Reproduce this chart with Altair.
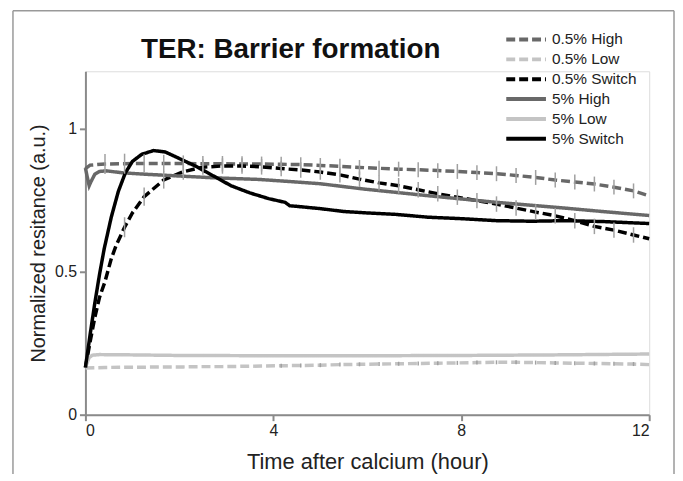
import altair as alt
import pandas as pd

SERIES = ["0.5% High", "0.5% Low", "0.5% Switch", "5% High", "5% Low", "5% Switch"]
COLORS = ["#686868", "#c4c4c4", "#000000", "#686868", "#c4c4c4", "#000000"]
DASHES = [[9, 4], [9, 4], [9, 4], [1, 0], [1, 0], [1, 0]]

# 25-minute measurement grid (minutes) used by the 0.5% series and their error bars
GRID_MIN = [0, 25, 50, 75, 100, 125, 150, 175, 200, 225, 250, 275, 300, 325, 350,
            375, 400, 425, 450, 475, 500, 525, 550, 575, 600, 625, 650, 675, 700, 720]

HIGH05 = [0.860, 0.876, 0.877, 0.878, 0.878, 0.878, 0.877, 0.877, 0.876, 0.876, 0.875, 0.874,
          0.871, 0.868, 0.864, 0.861, 0.858, 0.856, 0.853, 0.850, 0.846, 0.842, 0.836, 0.829,
          0.820, 0.813, 0.806, 0.795, 0.782, 0.765]
HIGH05_ERR = [0, 0.035, 0.035, 0.032, 0.030, 0.028, 0.027, 0.027, 0.027, 0.026, 0.026, 0.026,
              0.026, 0.026, 0.026, 0.026, 0.026, 0.026, 0.026, 0.026, 0.026, 0.026, 0.026, 0.026,
              0.026, 0.026, 0.026, 0.026, 0.026, 0]

SWITCH05 = [0.165, 0.465, 0.655, 0.762, 0.820, 0.849, 0.865, 0.869, 0.869, 0.866, 0.860, 0.855,
            0.848, 0.838, 0.823, 0.810, 0.800, 0.786, 0.772, 0.760, 0.748, 0.736, 0.722, 0.708,
            0.695, 0.678, 0.658, 0.645, 0.628, 0.615]
SWITCH05_ERR = [0, 0, 0.035, 0.032, 0.030, 0.028, 0.027, 0.027, 0.027, 0.027, 0.027, 0.027,
                0.027, 0.027, 0.027, 0.027, 0.027, 0.027, 0.027, 0.027, 0.027, 0.027, 0.027, 0.027,
                0.027, 0.027, 0.027, 0.027, 0.027, 0]

LOW05 = [0.163, 0.165, 0.166, 0.166, 0.167, 0.167, 0.168, 0.168, 0.169, 0.170, 0.171, 0.172,
         0.173, 0.175, 0.176, 0.177, 0.178, 0.179, 0.180, 0.181, 0.182, 0.183, 0.183, 0.182,
         0.181, 0.180, 0.179, 0.178, 0.177, 0.175]
LOW05_ERR = [0, 0, 0, 0, 0, 0, 0, 0, 0, 0, 0.007, 0.007, 0.007, 0.007, 0.007, 0.007, 0.007,
             0.007, 0.007, 0.007, 0.007, 0.007, 0.007, 0.007, 0.007, 0.007, 0.007, 0.007, 0.007, 0]

# extra early readings (hours)
SWITCH05_EXTRA_T = [0.05, 0.1, 0.2, 0.3, 0.55, 0.65, 1.0]
SWITCH05_EXTRA_V = [0.21, 0.255, 0.34, 0.41, 0.545, 0.59, 0.705]
HIGH05_EXTRA_T = [0.1]
HIGH05_EXTRA_V = [0.872]

HIGH5_T = [0, 0.04, 0.08, 0.12, 0.2, 0.3, 0.45, 0.8, 1.3, 2.0, 2.7, 3.7, 4.5, 5.0, 5.9, 7.3,
           8.75, 10.2, 11.0, 12.0]
HIGH5_V = [0.862, 0.83, 0.80, 0.815, 0.84, 0.85, 0.852, 0.845, 0.84, 0.834, 0.828, 0.822,
           0.813, 0.807, 0.789, 0.765, 0.742, 0.722, 0.71, 0.696]

LOW5_T = [0, 0.08, 0.15, 0.3, 1, 2, 4, 6, 8, 10, 12]
LOW5_V = [0.165, 0.2, 0.208, 0.21, 0.209, 0.207, 0.206, 0.206, 0.207, 0.209, 0.212]

SWITCH5_T = [0, 0.1, 0.2, 0.3, 0.4, 0.55, 0.7, 0.85, 1.0, 1.2, 1.45, 1.7, 2.0, 2.35, 2.75,
             3.1, 3.5, 3.9, 4.25, 4.35, 4.5, 5.0, 5.5, 6.0, 6.6, 7.3, 8.0, 8.75, 9.5, 10.2,
             11.0, 12.0]
SWITCH5_V = [0.165, 0.28, 0.39, 0.49, 0.58, 0.69, 0.78, 0.845, 0.885, 0.91, 0.923, 0.918,
             0.895, 0.868, 0.832, 0.80, 0.775, 0.755, 0.742, 0.73, 0.728, 0.72, 0.71, 0.705,
             0.70, 0.69, 0.685, 0.678, 0.676, 0.678, 0.675, 0.668]

grid_h = [m / 60 for m in GRID_MIN]

rows = []
for name, ts, vs in [
    ("0.5% High", grid_h + HIGH05_EXTRA_T, HIGH05 + HIGH05_EXTRA_V),
    ("0.5% Low", grid_h, LOW05),
    ("0.5% Switch", grid_h + SWITCH05_EXTRA_T, SWITCH05 + SWITCH05_EXTRA_V),
    ("5% High", HIGH5_T, HIGH5_V),
    ("5% Low", LOW5_T, LOW5_V),
    ("5% Switch", SWITCH5_T, SWITCH5_V),
]:
    for t, v in zip(ts, vs):
        rows.append({"series": name, "t": t, "v": v})
lines_df = pd.DataFrame(rows)

err_rows = []
for vals, errs in [(HIGH05, HIGH05_ERR), (SWITCH05, SWITCH05_ERR), (LOW05, LOW05_ERR)]:
    for t, v, e in zip(grid_h, vals, errs):
        if e > 0:
            err_rows.append({"t": t, "lo": v - e, "hi": v + e})
err_df = pd.DataFrame(err_rows)

legend_df = pd.DataFrame({"series": SERIES})

FONT = "Liberation Sans"
AX = "#8a8a8a"

color_scale = alt.Scale(domain=SERIES, range=COLORS)
dash_scale = alt.Scale(domain=SERIES, range=DASHES)

x_enc = alt.X("t:Q", scale=alt.Scale(domain=[0, 12], nice=False),
              axis=alt.Axis(values=[0, 4, 8, 12], title="Time after calcium (hour)",
                            grid=False, domainColor=AX, domainWidth=2, tickColor=AX,
                            tickWidth=2, tickSize=6, labelFontSize=16, labelColor="#222",
                            labelFont=FONT, labelPadding=2, titleFont=FONT, titleFontSize=22,
                            titleFontWeight="normal", titleColor="#222", titlePadding=13))
y_scale = alt.Scale(domain=[0, 1.2], nice=False)
y_axis = alt.Axis(values=[0, 0.5, 1], format="~g", title="Normalized resitance (a.u.)",
                  grid=False, domainColor=AX, domainWidth=2, tickColor=AX, tickWidth=2,
                  tickSize=6, labelFontSize=16, labelColor="#222", labelFont=FONT,
                  labelPadding=3, titleFont=FONT, titleFontSize=20, titleFontWeight="normal",
                  titleColor="#222", titlePadding=6)

errbars = alt.Chart(err_df).mark_rule(color="#a0a0a0", strokeWidth=1.5).encode(
    x=alt.X("t:Q"), y=alt.Y("lo:Q"), y2="hi:Q")

lines = alt.Chart(lines_df).mark_line(strokeWidth=3.5).encode(
    x=x_enc,
    y=alt.Y("v:Q", scale=y_scale, axis=y_axis),
    color=alt.Color("series:N", scale=color_scale, legend=None),
    strokeDash=alt.StrokeDash("series:N", scale=dash_scale, legend=None),
    order=alt.Order("t:Q"),
)

plot = alt.layer(lines, errbars)

# hand-built legend (rows on their own point scale)
row_y = alt.Y("series:N", sort=SERIES, axis=None,
              scale=alt.Scale(type="point", domain=SERIES, range=[-32, 68], padding=0))
leg_sym = alt.Chart(legend_df).mark_rule(strokeWidth=4).encode(
    x=alt.value(424), x2=alt.value(464), y=row_y,
    color=alt.Color("series:N", scale=color_scale, legend=None),
    strokeDash=alt.StrokeDash("series:N", scale=dash_scale, legend=None))
leg_txt = alt.Chart(legend_df).mark_text(
    font=FONT, fontSize=15.5, color="#222", align="left", baseline="middle").encode(
    x=alt.value(470), y=row_y, text="series:N")
legend_layer = alt.layer(leg_sym, leg_txt)

title = alt.Chart(alt.Data(values=[{"label": "TER: Barrier formation"}])).mark_text(
    font=FONT, fontSize=28, fontWeight="bold", color="#111", align="left",
    baseline="alphabetic").encode(text="label:N", x=alt.value(56), y=alt.value(-13))

frame_style = dict(color="#999999", strokeWidth=1.5)
frame_left = alt.Chart(alt.Data(values=[{}])).mark_rule(**frame_style).encode(
    x=alt.value(-73), y=alt.value(-61), y2=alt.value(420))
frame_top = alt.Chart(alt.Data(values=[{}])).mark_rule(**frame_style).encode(
    x=alt.value(-73), x2=alt.value(593), y=alt.value(-61))
frame_right = alt.Chart(alt.Data(values=[{}])).mark_rule(**frame_style).encode(
    x=alt.value(593), y=alt.value(-61), y2=alt.value(420))

chart = alt.layer(frame_left, frame_top, frame_right, plot, legend_layer, title).resolve_scale(
    y="independent", color="independent", strokeDash="independent"
).properties(
    width=568, height=346,
    autosize=alt.AutoSizeParams(type="none"),
    padding={"left": 78, "top": 62, "right": 26, "bottom": 58},
).configure_view(stroke=None).configure(background="white")

chart.save("out.html", embed_options={"renderer": "svg", "actions": False})
